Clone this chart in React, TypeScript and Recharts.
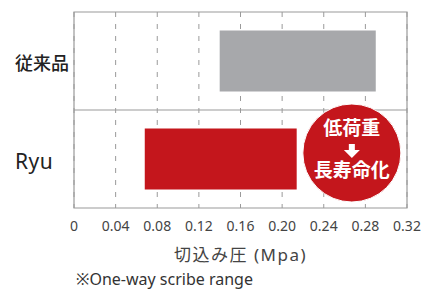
import React from "react";
import {
  BarChart,
  Bar,
  Cell,
  XAxis,
  YAxis,
  CartesianGrid,
  ReferenceArea,
  ReferenceDot,
} from "recharts";

const categories = ["従来品", "Ryu"];
const lowValues = [0.14, 0.068];
const highValues = [0.29, 0.214];
const barColors = ["#a7a8ab", "#c4161c"];
const xTicks = [0, 0.04, 0.08, 0.12, 0.16, 0.2, 0.24, 0.28, 0.32];
const xTickLabels = ["0", "0.04", "0.08", "0.12", "0.16", "0.20", "0.24", "0.28", "0.32"];
const badgeX = 0.267;
const badgeLines = ["低荷重", "長寿命化"];

const data = categories.map((name, i) => ({
  name,
  range: [lowValues[i], highValues[i]],
}));

const FONT = "'Noto Sans', 'Noto Sans CJK JP', sans-serif";
const JP = "'Noto Sans CJK JP', sans-serif";

const YTick = (props: any) => {
  const { y, payload } = props;
  const isJp = payload.value !== "Ryu";
  return (
    <text
      x={15}
      y={y}
      dy={isJp ? 9 : 10}
      textAnchor="start"
      fill="#222"
      fontFamily={isJp ? JP : FONT}
      fontSize={isJp ? 18 : 21}
      fontWeight={isJp ? 500 : 400}
      letterSpacing={isJp ? 0 : 0.5}
    >
      {payload.value}
    </text>
  );
};

const Badge = (props: any) => {
  const { cx, cy } = props;
  const y = cy - 6;
  return (
    <g>
      <circle cx={cx} cy={y} r={49} fill="#c4161c" stroke="#fff" strokeWidth={1} />
      <text x={cx} y={y - 18} textAnchor="middle" fill="#fff" fontFamily={JP} fontWeight={700} fontSize={19}>
        {badgeLines[0]}
      </text>
      <path
        d={`M${cx - 3} ${y - 9} h6 v6 h5 l-8 8 l-8 -8 h5 z`}
        fill="#fff"
      />
      <text x={cx} y={y + 24} textAnchor="middle" fill="#fff" fontFamily={JP} fontWeight={700} fontSize={19}>
        {badgeLines[1]}
      </text>
    </g>
  );
};

export default function App() {
  return (
    <div style={{ position: "absolute", left: 0, top: 0, width: 422, height: 291, background: "#fff", fontFamily: FONT }}>
      <BarChart
        width={422}
        height={291}
        data={data}
        layout="vertical"
        margin={{ top: 12, right: 15, left: 0, bottom: 23 }}
        barCategoryGap="19%"
      >
        <CartesianGrid
          horizontal={false}
          stroke="#9a9a9a"
          strokeDasharray="5 7"
        />
        <XAxis
          type="number"
          domain={[0, 0.32]}
          ticks={xTicks}
          tickFormatter={(v: number, i: number) => xTickLabels[i]}
          interval={0}
          axisLine={false}
          tickLine={false}
          tickMargin={7}
          height={60}
          tick={{ fill: "#444", fontSize: 14, fontFamily: FONT }}
          label={{
            value: "切込み圧 (Mpa)",
            position: "insideBottom",
            offset: 7,
            fill: "#444",
            fontSize: 17,
            fontFamily: FONT,
            letterSpacing: 1.5,
          }}
        />
        <YAxis
          type="category"
          dataKey="name"
          width={74}
          axisLine={false}
          tickLine={false}
          tick={<YTick />}
        />
        <ReferenceArea
          x1={0}
          x2={0.32}
          fill="none"
          stroke="#9a9a9a"
          strokeWidth={1.2}
          ifOverflow="visible"
        />
        <ReferenceDot
          x={0}
          y={categories[1]}
          r={0}
          shape={(p: any) => (
            <line x1={74} x2={407} y1={p.cy - 49} y2={p.cy - 49} stroke="#9a9a9a" strokeWidth={1.2} />
          )}
        />
        <Bar dataKey="range" isAnimationActive={false}>
          {data.map((d, i) => (
            <Cell key={d.name} fill={barColors[i]} />
          ))}
        </Bar>
        <ReferenceDot x={badgeX} y={categories[1]} r={49} shape={<Badge />} ifOverflow="visible" />
      </BarChart>
      <div
        style={{
          position: "absolute",
          left: 76,
          top: 269,
          fontSize: 16,
          color: "#333",
          fontFamily: FONT,
          whiteSpace: "nowrap",
          lineHeight: "20px",
        }}
      >
        ※One-way scribe range
      </div>
    </div>
  );
}
